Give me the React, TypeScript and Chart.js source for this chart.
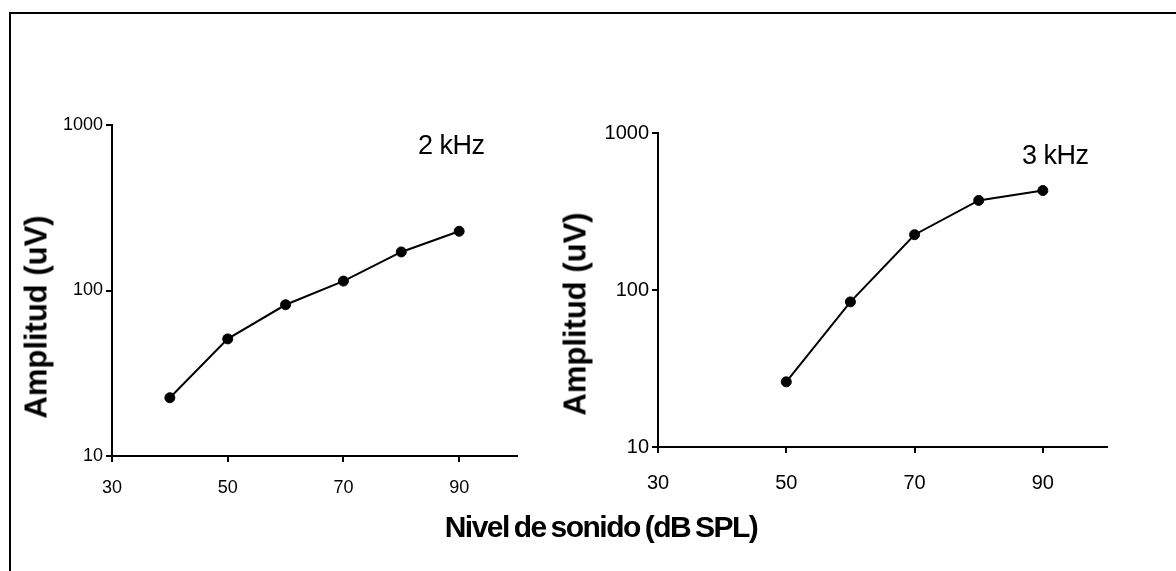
import React, { useEffect, useRef } from "react";
import { Chart, registerables } from "chart.js";

Chart.register(...registerables);

// ---- data ----
const levels2k = [40, 50, 60, 70, 80, 90];
const amp2k = [22.5, 51, 82, 114, 171, 228];
const levels3k = [50, 60, 70, 80, 90];
const amp3k = [26, 84, 225, 372, 430];
const xTicks = [30, 50, 70, 90];
const yTicks = [10, 100, 1000];
const xMin = 30;
const xMax = 100;
const yMin = 10;
const yMax = 1000;

const FAMILY = "'Liberation Sans', Arial, Helvetica, sans-serif";

type PanelOpts = {
  xs: number[];
  ys: number[];
  yScaleWidth: number;
  padTop: number;
  padRight: number;
  padBottom: number;
  tickFont: number;
  xTickPad: number;
  yTickPad: number;
};

function makeConfig(o: PanelOpts): any {
  const points = o.xs.map((x, i) => ({ x, y: o.ys[i] }));
  const grid = {
    drawOnChartArea: false,
    drawTicks: true,
    tickLength: 6,
    tickWidth: 2,
    tickColor: "#000",
    color: "#000",
    lineWidth: 2,
  };
  return {
    type: "line",
    data: {
      datasets: [
        {
          data: points,
          borderColor: "#000",
          borderWidth: 2,
          backgroundColor: "#000",
          pointBackgroundColor: "#000",
          pointBorderColor: "#000",
          pointRadius: 5,
          pointBorderWidth: 1,
          tension: 0,
          fill: false,
        },
      ],
    },
    options: {
      animation: false,
      responsive: false,
      maintainAspectRatio: false,
      devicePixelRatio: 1,
      layout: {
        padding: { top: o.padTop, right: o.padRight, bottom: o.padBottom, left: 0 },
      },
      plugins: {
        legend: { display: false },
        tooltip: { enabled: false },
        title: { display: false },
      },
      scales: {
        x: {
          type: "linear",
          min: xMin,
          max: xMax,
          afterBuildTicks: (s: any) => {
            s.ticks = xTicks.map((v) => ({ value: v }));
          },
          afterFit: (s: any) => {
            s.height = 50;
          },
          grid,
          border: { display: true, color: "#000", width: 2 },
          ticks: {
            color: "#000",
            font: { family: FAMILY, size: o.tickFont },
            padding: o.xTickPad,
            maxRotation: 0,
            autoSkip: false,
            callback: (v: any) => String(v),
          },
        },
        y: {
          type: "logarithmic",
          min: yMin,
          max: yMax,
          afterBuildTicks: (s: any) => {
            s.ticks = yTicks.map((v) => ({ value: v }));
          },
          afterFit: (s: any) => {
            s.width = o.yScaleWidth;
          },
          grid,
          border: { display: true, color: "#000", width: 2 },
          ticks: {
            color: "#000",
            font: { family: FAMILY, size: o.tickFont },
            padding: o.yTickPad,
            autoSkip: false,
            callback: (v: any) => String(v),
          },
        },
      },
    },
  };
}

function Panel(props: {
  left: number;
  width: number;
  height: number;
  opts: PanelOpts;
}) {
  const ref = useRef<HTMLCanvasElement | null>(null);
  useEffect(() => {
    if (!ref.current) return;
    const chart = new Chart(ref.current, makeConfig(props.opts));
    return () => chart.destroy();
  }, []);
  return (
    <canvas
      ref={ref}
      width={props.width}
      height={props.height}
      style={{
        position: "absolute",
        left: props.left,
        top: 0,
        width: props.width,
        height: props.height,
      }}
    />
  );
}

const textBase: React.CSSProperties = {
  position: "absolute",
  fontFamily: FAMILY,
  color: "#000",
  whiteSpace: "nowrap",
  lineHeight: 1,
};

export default function App() {
  const H = 571;
  return (
    <div
      style={{
        position: "fixed",
        left: 0,
        top: 0,
        width: 1176,
        height: 571,
        overflow: "hidden",
        background: "#fff",
      }}
    >
      <div
        style={{
          position: "absolute",
          left: 9,
          top: 12,
          width: 1300,
          height: 700,
          border: "2px solid #000",
        }}
      />
      <Panel
        left={0}
        width={560}
        height={H}
        opts={{
          xs: levels2k,
          ys: amp2k,
          yScaleWidth: 112,
          padTop: 125,
          padRight: 560 - 517,
          padBottom: H - 456 - 50,
          tickFont: 18,
          xTickPad: 15,
          yTickPad: 3,
        }}
      />
      <Panel
        left={560}
        width={616}
        height={H}
        opts={{
          xs: levels3k,
          ys: amp3k,
          yScaleWidth: 98,
          padTop: 133,
          padRight: 616 - (1107 - 560),
          padBottom: H - 447 - 50,
          tickFont: 20,
          xTickPad: 18,
          yTickPad: 3,
        }}
      />
      <div
        style={{
          ...textBase,
          left: 36,
          top: 317,
          fontSize: 31,
          fontWeight: "bold",
          transform: "translate(-50%, -50%) rotate(-90deg)",
        }}
      >
        Amplitud (uV)
      </div>
      <div
        style={{
          ...textBase,
          left: 575,
          top: 314,
          fontSize: 31,
          fontWeight: "bold",
          transform: "translate(-50%, -50%) rotate(-90deg)",
        }}
      >
        Amplitud (uV)
      </div>
      <div style={{ ...textBase, left: 418, top: 132, fontSize: 27, letterSpacing: "-0.5px" }}>2 kHz</div>
      <div style={{ ...textBase, left: 1022, top: 142, fontSize: 27, letterSpacing: "-0.5px" }}>3 kHz</div>
      <div
        style={{
          ...textBase,
          left: 601,
          top: 512,
          fontSize: 30,
          fontWeight: "bold",
          letterSpacing: "-1.5px",
          wordSpacing: "-2px",
          transform: "translateX(-50%)",
        }}
      >
        Nivel de sonido (dB SPL)
      </div>
    </div>
  );
}
